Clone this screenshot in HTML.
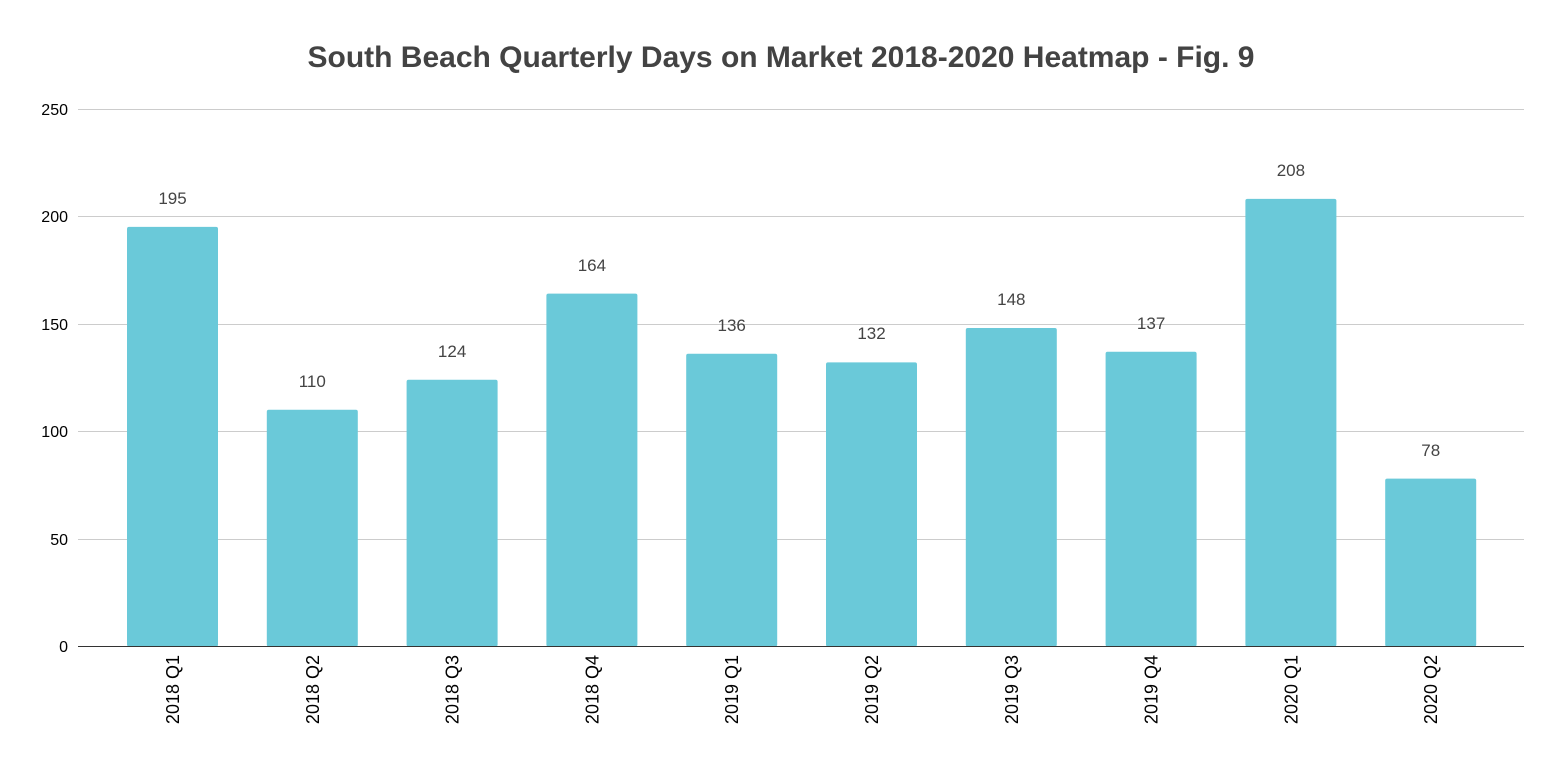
<!DOCTYPE html>
<html><head><meta charset="utf-8"><style>
html,body{margin:0;padding:0;background:#fff;}
svg{display:block;font-family:"Liberation Sans",Arial,sans-serif;}
</style></head><body>
<svg width="1563" height="763" viewBox="0 0 1563 763" xmlns="http://www.w3.org/2000/svg">
<rect width="1563" height="763" fill="#fff"/>
<text x="781" y="67" text-anchor="middle" font-size="30" font-weight="bold" fill="#434343">South Beach Quarterly Days on Market 2018-2020 Heatmap - Fig. 9</text>
<g stroke="#cccccc" stroke-width="1">
<line x1="78" x2="1524" y1="109.5" y2="109.5"/>
<line x1="78" x2="1524" y1="216.5" y2="216.5"/>
<line x1="78" x2="1524" y1="324.5" y2="324.5"/>
<line x1="78" x2="1524" y1="431.5" y2="431.5"/>
<line x1="78" x2="1524" y1="539.5" y2="539.5"/>
</g>
<g font-size="16" fill="#000" text-anchor="end">
<text x="68" y="115">250</text>
<text x="68" y="222">200</text>
<text x="68" y="330">150</text>
<text x="68" y="437">100</text>
<text x="68" y="545">50</text>
<text x="68" y="652">0</text>
</g>
<g fill="#6ac9d9">
<rect x="127" y="226.9" width="91" height="419.6" rx="2"/>
<rect x="266.8" y="409.8" width="91" height="236.7" rx="2"/>
<rect x="406.6" y="379.7" width="91" height="266.8" rx="2"/>
<rect x="546.4" y="293.6" width="91" height="352.9" rx="2"/>
<rect x="686.2" y="353.8" width="91" height="292.7" rx="2"/>
<rect x="826" y="362.4" width="91" height="284.1" rx="2"/>
<rect x="965.8" y="328" width="91" height="318.5" rx="2"/>
<rect x="1105.6" y="351.7" width="91" height="294.8" rx="2"/>
<rect x="1245.4" y="198.9" width="91" height="447.6" rx="2"/>
<rect x="1385.2" y="478.6" width="91" height="167.9" rx="2"/>
</g>
<line x1="78" x2="1524" y1="646.5" y2="646.5" stroke="#333" stroke-width="1"/>
<g font-size="17" fill="#444" text-anchor="middle">
<text x="172.5" y="204">195</text>
<text x="312.3" y="387">110</text>
<text x="452.1" y="357">124</text>
<text x="591.9" y="271">164</text>
<text x="731.7" y="331">136</text>
<text x="871.5" y="339">132</text>
<text x="1011.3" y="305">148</text>
<text x="1151.1" y="329">137</text>
<text x="1290.9" y="176">208</text>
<text x="1430.7" y="456">78</text>
</g>
<g font-size="18" fill="#000" text-anchor="end">
<text transform="translate(179,655) rotate(-90)">2018 Q1</text>
<text transform="translate(318.8,655) rotate(-90)">2018 Q2</text>
<text transform="translate(458.6,655) rotate(-90)">2018 Q3</text>
<text transform="translate(598.4,655) rotate(-90)">2018 Q4</text>
<text transform="translate(738.2,655) rotate(-90)">2019 Q1</text>
<text transform="translate(878,655) rotate(-90)">2019 Q2</text>
<text transform="translate(1017.8,655) rotate(-90)">2019 Q3</text>
<text transform="translate(1157.6,655) rotate(-90)">2019 Q4</text>
<text transform="translate(1297.4,655) rotate(-90)">2020 Q1</text>
<text transform="translate(1437.2,655) rotate(-90)">2020 Q2</text>
</g>
</svg>
</body></html>
